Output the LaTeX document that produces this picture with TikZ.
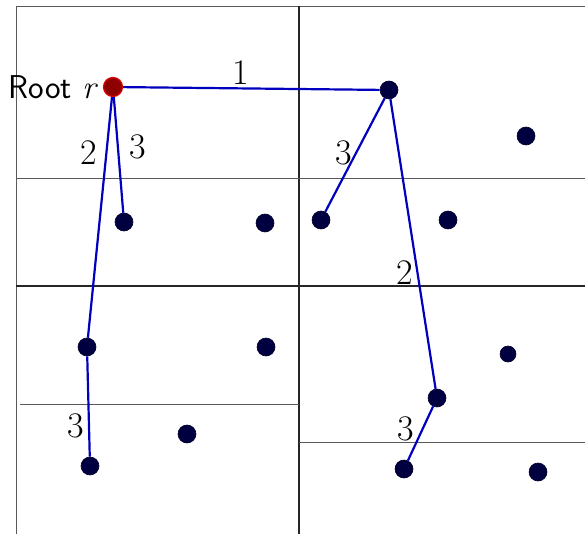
\documentclass[tikz,border=0pt]{standalone}
\usepackage{fontspec}
\begin{document}
\begin{tikzpicture}[x=1pt,y=-1pt,
  grid/.style={draw=black!65,line width=0.9pt},
  gridmain/.style={draw=black!85,line width=1.2pt},
  pt/.style={circle,fill={rgb,255:red,0;green,0;blue,64},draw={rgb,255:red,0;green,0;blue,40},line width=0.6pt,minimum size=18pt,inner sep=0pt},
  rootpt/.style={circle,fill={rgb,255:red,140;green,0;blue,0},draw={rgb,255:red,225;green,0;blue,0},line width=1.2pt,minimum size=19pt,inner sep=0pt},
  edge/.style={draw={rgb,255:red,0;green,0;blue,190},line width=2.2pt},
  lab/.style={font=\fontsize{36}{40}\selectfont,inner sep=3pt}]
\useasboundingbox (0,0) rectangle (585,534);
% grid
\draw[grid] (16,534) -- (16,6) -- (585,6);
\draw[gridmain] (299,6) -- (299,534);
\draw[grid] (16,178) -- (585,178);
\draw[gridmain] (16,286) -- (585,286);
\draw[grid] (20,404) -- (299,404);
\draw[grid] (299,442) -- (585,442);
% nodes
\node[rootpt] (r) at (113,87) {};
\node[anchor=east,font=\fontsize{33}{38}\selectfont\sffamily,inner sep=0pt] (rl) at ([xshift=-7pt]r.west) {Root {\rmfamily\itshape r}};
\node[pt] (a) at (389,90) {};
\node[pt] (b) at (124,222) {};
\node[pt] (c) at (265,223) {};
\node[pt] (d) at (321,220) {};
\node[pt] (e) at (448,220) {};
\node[pt] (f) at (526,136) {};
\node[pt] (g) at (87,347) {};
\node[pt] (h) at (266,347) {};
\node[pt] (i) at (187,434) {};
\node[pt] (j) at (90,466) {};
\node[pt,minimum size=16pt] (k) at (508,354) {};
\node[pt] (l) at (437,398) {};
\node[pt] (m) at (404,469) {};
\node[pt] (n) at (538,472) {};
% edges
\draw[edge] (r) -- node[lab,pos=0.43,right=8pt]{3} (b);
\draw[edge] (r) -- node[lab,pos=0.23,left=5pt]{2} (g);
\draw[edge] (r) -- node[lab,pos=0.46,above]{1} (a);
\draw[edge] (a) -- node[lab,pos=0.48,left]{3} (d);
\draw[edge] (a) -- node[lab,pos=0.6,left]{2} (l);
\draw[edge] (g) -- node[lab,pos=0.69,left=1pt]{3} (j);
\draw[edge] (l) -- node[lab,pos=0.42,left=4pt]{3} (m);
\end{tikzpicture}
\end{document}
